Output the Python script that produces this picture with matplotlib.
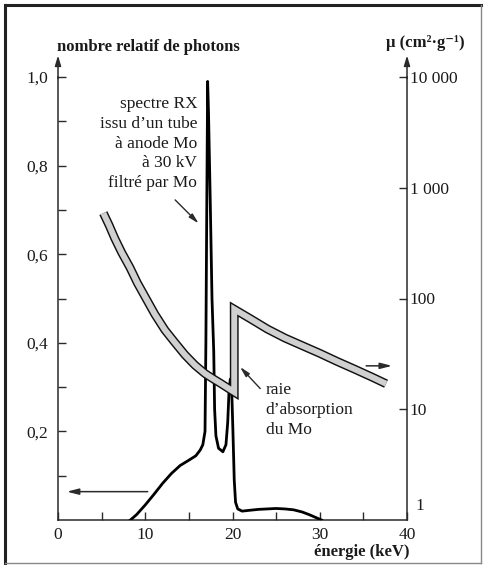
import matplotlib
matplotlib.use("Agg")
import matplotlib.pyplot as plt
from matplotlib.lines import Line2D

plt.rcParams['font.family'] = ['Liberation Serif', 'DejaVu Serif']

# spectre RX (nombre relatif de photons)
spec_kev = [8.3, 9.0, 10.0, 11.0, 12.0, 13.0, 14.0, 15.0, 15.8, 16.3, 16.6, 16.85,
            16.95, 17.05, 17.15, 17.25, 17.45, 17.65, 17.85, 17.95, 18.1, 18.4, 18.9,
            19.25, 19.45, 19.6, 19.75, 19.9, 20.05, 20.2, 20.35, 20.6, 21.1, 22.0,
            23.0, 24.0, 25.0, 26.0, 27.0, 28.0, 28.8, 29.5, 30.2]
spec_rel = [0.0, 0.012, 0.034, 0.058, 0.083, 0.105, 0.123, 0.135, 0.145, 0.158, 0.17, 0.2,
            0.4, 0.7, 0.99, 0.92, 0.72, 0.5, 0.38, 0.25, 0.19, 0.162, 0.154,
            0.17, 0.22, 0.29, 0.318, 0.3, 0.2, 0.09, 0.04, 0.025, 0.02, 0.022,
            0.024, 0.025, 0.026, 0.025, 0.023, 0.018, 0.012, 0.006, 0.0]

# coefficient d'atténuation du Mo (cm2/g)
mu_kev = [5.2, 5.85, 6.5, 7.3, 8.25, 9.1, 10.0, 11.1, 12.25, 13.4, 14.55, 15.7,
          16.85, 17.7, 18.55, 20.2,
          20.2, 22.0, 24.0, 26.0, 28.0, 30.0, 32.0, 34.0, 36.0, 37.6]
mu_val = [590, 460, 350, 260, 190, 138, 103, 72, 52, 40, 31, 25,
          21, 19, 17.3, 14.3,
          80, 66, 53, 44, 37.5, 32, 27, 23, 19.5, 17]

left_ticks = [0.2, 0.4, 0.6, 0.8, 1.0]
left_labels = ["0,2", "0,4", "0,6", "0,8", "1,0"]
left_minor = [0.1, 0.3, 0.5, 0.7, 0.9]
right_ticks = [10, 100, 1000, 10000]
right_labels = ["10", "100", "1 000", "10 000"]
x_ticks = [0, 10, 20, 30, 40]
x_minor = [5, 15, 25, 35]

axis_col = "#2a2a2a"
txt_col = "#1a1a1a"

fig = plt.figure(figsize=(4.84, 5.65), dpi=100)
ax = fig.add_axes([58 / 484, 45 / 565, 349 / 484, 443 / 565])
ax2 = ax.twinx()

ax.plot(spec_kev, spec_rel, color="black", lw=2.0, solid_joinstyle="round", zorder=3)
ax.set_xlim(0, 40)
ax.set_ylim(0, 1.0)

ax2.set_yscale("log")
ax2.set_ylim(1, 10000)
ax2.plot(mu_kev, mu_val, color="#111111", lw=6.4, solid_capstyle="butt",
         solid_joinstyle="miter", zorder=4)
ax2.plot(mu_kev, mu_val, color="#d0d0d0", lw=4.3, solid_capstyle="butt",
         solid_joinstyle="miter", zorder=5)

for a in (ax, ax2):
    a.spines["top"].set_visible(False)
    a.patch.set_visible(False)
ax.spines["right"].set_visible(False)
ax2.spines["left"].set_visible(False)
ax2.spines["bottom"].set_visible(False)
for s in ("left", "bottom"):
    ax.spines[s].set_color(axis_col)
    ax.spines[s].set_linewidth(1.1)
ax2.spines["right"].set_color(axis_col)
ax2.spines["right"].set_linewidth(1.1)

ax.set_yticks(left_ticks)
ax.set_yticklabels(left_labels)
ax.set_yticks(left_minor, minor=True)
ax.set_xticks(x_ticks)
ax.set_xticklabels([str(t) for t in x_ticks])
ax.set_xticks(x_minor, minor=True)
ax.tick_params(axis="both", which="both", direction="in", length=6, width=1,
               color=axis_col, labelsize=12.5, labelcolor=txt_col)
ax.tick_params(axis="y", pad=7)
ax.tick_params(axis="x", pad=5)

ax2.set_yticks(right_ticks)
ax2.set_yticklabels(right_labels)
ax2.yaxis.set_minor_locator(matplotlib.ticker.NullLocator())
ax2.tick_params(axis="y", which="both", direction="in", length=6, width=1,
                color=axis_col, labelsize=12.5, labelcolor=txt_col, pad=2)
ax2.annotate("1", xy=(1, 1), xycoords=("axes fraction", "data"), xytext=(6, 4),
             textcoords="offset points", va="bottom", ha="left", fontsize=12.5,
             color=txt_col)

# flèches au bout des axes
for xf in (0, 1):
    ax.annotate("", xy=(xf, 1.055), xycoords="axes fraction", xytext=(xf, 0.99),
                arrowprops=dict(arrowstyle="-|>,head_length=0.6,head_width=0.18",
                                color=axis_col, lw=1.1), annotation_clip=False)

# flèches de lecture
ax.annotate("", xy=(0.7, 0.064), xytext=(10.6, 0.064),
            arrowprops=dict(arrowstyle="-|>,head_length=0.7,head_width=0.18",
                            color=axis_col, lw=1.1))
ax.annotate("", xy=(38.6, 0.348), xytext=(35.0, 0.348),
            arrowprops=dict(arrowstyle="-|>,head_length=0.7,head_width=0.18",
                            color=axis_col, lw=1.1))

# légendes des courbes
ax.text(15.95, 0.958, "spectre RX\nissu d\u2019un tube\nà anode Mo\nà 30 kV\nfiltré par Mo",
        ha="right", va="top", fontsize=12.5, color=txt_col, linespacing=1.33, zorder=6)
ax.annotate("", xy=(16.35, 0.665), xytext=(13.2, 0.727),
            arrowprops=dict(arrowstyle="-|>,head_length=0.6,head_width=0.15",
                            color=axis_col, lw=1.0), zorder=6)
ax2.annotate("", xy=(20.65, 0.35), xycoords=("data", "axes fraction"),
             xytext=(23.4, 0.292), textcoords=("data", "axes fraction"),
             arrowprops=dict(arrowstyle="-|>,head_length=0.6,head_width=0.15",
                             color=axis_col, lw=1.0), zorder=6)
ax.text(23.8, 0.312, "raie\nd\u2019absorption\ndu Mo", ha="left", va="top",
        fontsize=12.5, color=txt_col, linespacing=1.33)

# titres d'axes
fig.text(57 / 484, 1 - 47 / 565, "nombre relatif de photons", ha="left", va="center",
         fontsize=12, fontweight="bold", color=txt_col)
fig.text(386 / 484, 1 - 43 / 565, "\u03bc (cm\u00b2\u00b7g\u207b\u00b9)", ha="left",
         va="center", fontsize=12, fontweight="bold", color=txt_col)
fig.text(410 / 484, 1 - 552 / 565, "énergie (keV)", ha="right", va="center",
         fontsize=12, fontweight="bold", color=txt_col)

# cadre
fig.add_artist(Line2D([5 / 484, 5 / 484], [2 / 565, 1 - 5 / 565], color="#222222", lw=2.2))
fig.add_artist(Line2D([5 / 484, 481 / 484], [1 - 5 / 565, 1 - 5 / 565], color="#222222", lw=2.2))
fig.add_artist(Line2D([481 / 484, 481 / 484], [2 / 565, 1 - 5 / 565], color="#888888", lw=1.0))
fig.add_artist(Line2D([5 / 484, 481 / 484], [2 / 565, 2 / 565], color="#888888", lw=1.0))

fig.savefig("out.png", dpi=100)
